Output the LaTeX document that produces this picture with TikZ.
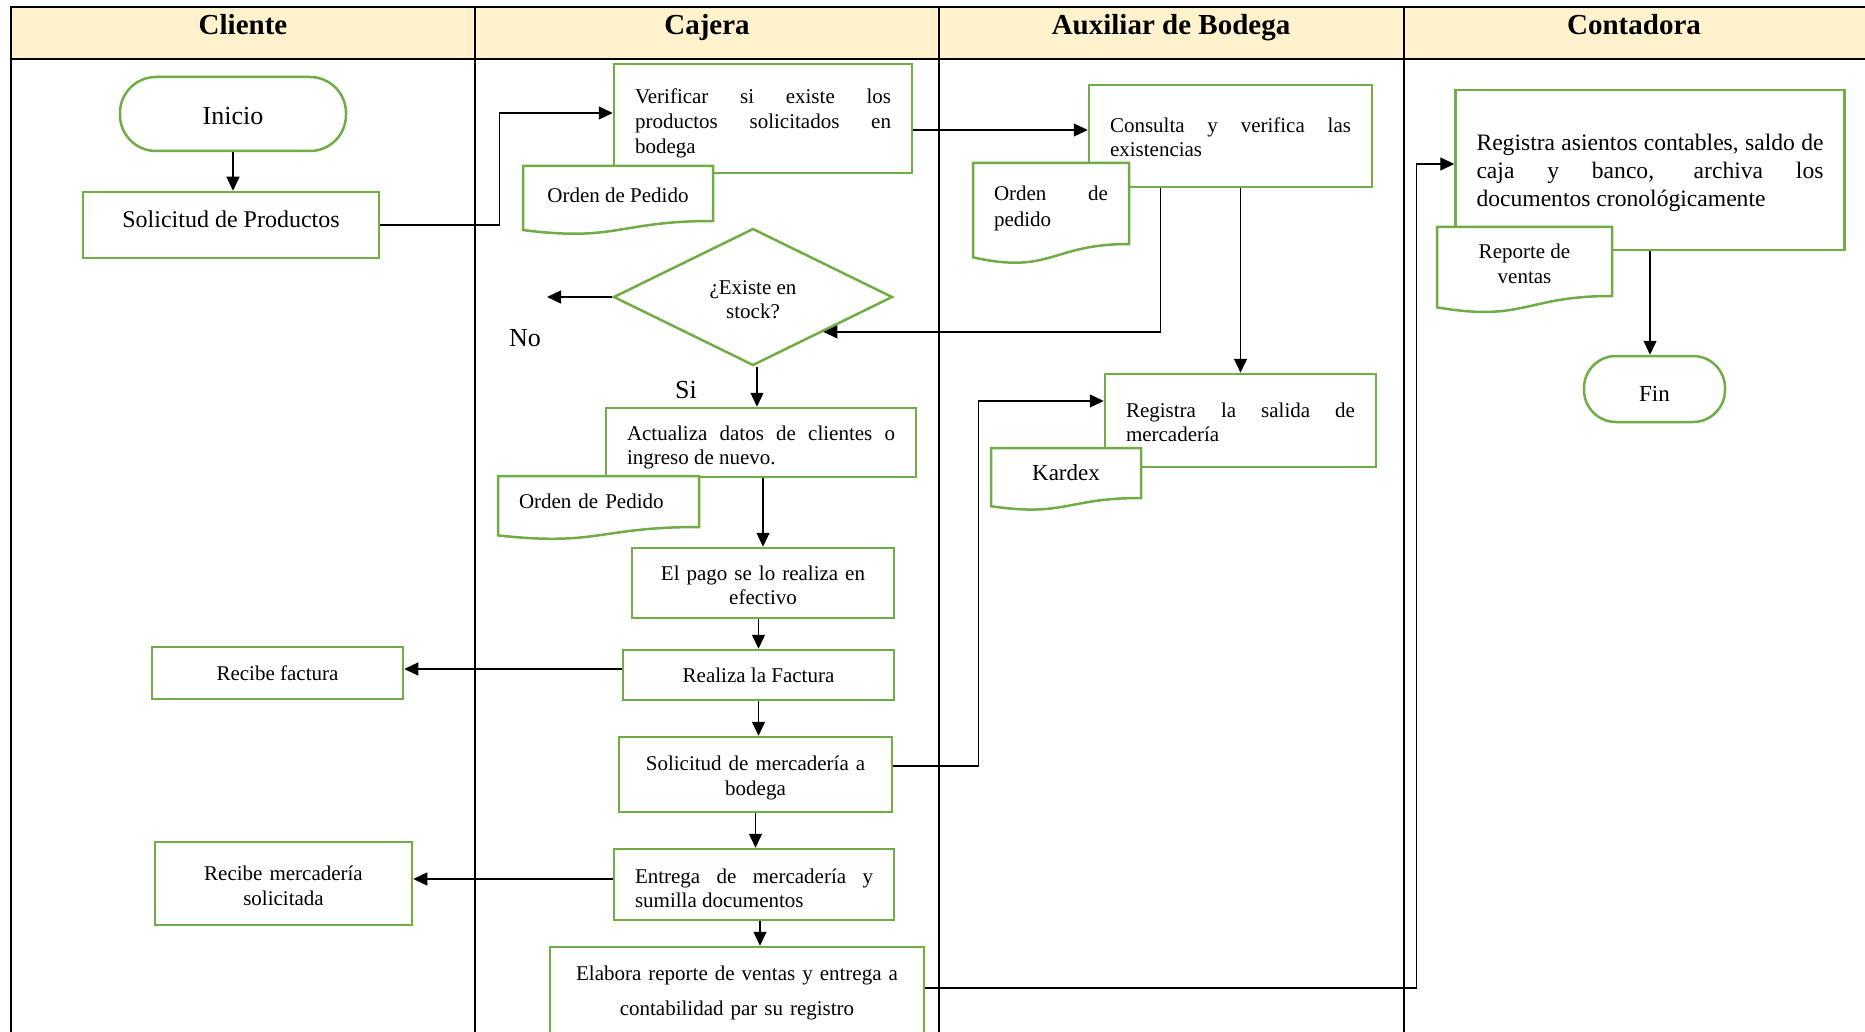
\documentclass[tikz,border=0pt]{standalone}
\usepackage{fontspec}
\setmainfont{Liberation Serif}
\usetikzlibrary{calc,arrows.meta,shapes.geometric}
\definecolor{gr}{HTML}{70AD47}
\definecolor{hdr}{HTML}{FFF2CC}
\newcommand\fs[2]{\fontsize{#1pt}{#2pt}\selectfont}
\newcommand\sd[1]{\rule{0pt}{#1pt}}
\newcommand\su[1]{\rule[-#1pt]{0pt}{#1pt}}
\hyphenpenalty=10000
\newcommand\docwave[2]{%
  \fill[white] (#1.south east) .. controls (#1.south) and ([yshift=-0.381*#2pt]#1.south) .. ([yshift=-0.1646*#2pt]#1.south west) -- (#1.south west) -- cycle;
  \draw[gline] (#1.north west) -- (#1.north east) -- (#1.south east) .. controls (#1.south) and ([yshift=-0.381*#2pt]#1.south) .. ([yshift=-0.1646*#2pt]#1.south west) -- cycle;}
\begin{document}
\begin{tikzpicture}[x=1pt,y=-1pt,
  box/.style={draw=gr,line width=2.5pt,fill=white,rectangle,inner xsep=21pt,inner ysep=3pt,font=\fs{21}{24}},
  term/.style={draw=gr,line width=2.5pt,fill=white,rectangle},
  docn/.style={rectangle,fill=white,draw=none,outer sep=0pt,inner xsep=21pt,inner ysep=2pt,font=\fs{21}{25}},
  gline/.style={draw=gr,line width=2.5pt},
  conn/.style={draw=black,line width=1.3pt,-{Triangle[length=14pt,width=13pt]}},
  lane/.style={line width=1.8pt},
  hd/.style={font=\fs{29}{33}\bfseries,anchor=base},
  lbl/.style={font=\fs{26}{30}}
]
\fill[white] (0,0) rectangle (1865,1032);
\useasboundingbox (0,0) rectangle (1865,1032);
\clip (0,0) rectangle (1865,1032);
% header and lanes
\fill[hdr] (11,7) rectangle (1865,59);
\draw[lane] (475,7) -- (475,1040);
\draw[lane] (939,7) -- (939,1040);
\draw[lane] (1404,7) -- (1404,1040);
\draw[line width=2.5pt] (1865,7) -- (11,7) -- (11,1040);
\draw[line width=2.5pt] (11,59) -- (1865,59);
\node[hd] (hcli) at (243,35) {Cliente};
\node[hd] (hcaj) at (707,35) {Cajera};
\node[hd] (haux) at (1171,35) {Auxiliar de Bodega};
\node[hd] (hcon) at (1634,35) {Contadora};
% process nodes
\node[term,rounded corners=36pt,minimum width=226pt,minimum height=74pt,font=\fs{26}{30}] (ini) at (233,114) {\sd{22}Inicio};
\node[box,minimum width=296pt,minimum height=66pt,font=\fs{24}{28}] (sol) at (231,225) {Solicitud de Productos\su{11}};
\node[box,text width=256pt,minimum height=109pt,align=justify,font=\fs{21}{25}] (ver) at (763,118.5) {\sd{24}Verificar si existe los\linebreak productos solicitados en\linebreak bodega};
\node[diamond,draw=gr,line width=2.5pt,fill=white,minimum width=279pt,minimum height=137pt,inner sep=0pt,align=center,font=\fs{21}{24}] (dia) at (753,297) {\sd{19}¿Existe en\\stock?};
\node[box,text width=268pt,minimum height=69pt,align=justify] (act) at (761,442.5) {\sd{24}Actualiza datos de clientes o\linebreak ingreso de nuevo.};
\node[box,text width=220pt,minimum height=70pt,align=center] (pago) at (763,583) {\sd{19}El pago se lo realiza en\\efectivo};
\node[box,minimum width=271pt,minimum height=50pt] (fact) at (758.5,675) {Realiza la Factura};
\node[box,minimum width=251pt,minimum height=52pt] (rfact) at (277.5,673) {Recibe factura};
\node[box,text width=231pt,minimum height=75pt,align=center,font=\fs{21}{25}] (smerc) at (755.5,774.5) {\sd{21.5}Solicitud de mercadería a\\bodega};
\node[box,text width=238pt,minimum height=71pt,align=justify] (ent) at (754,884.5) {\sd{21.5}Entrega de mercadería y\linebreak sumilla documentos};
\node[box,text width=215pt,minimum height=83pt,align=center,font=\fs{21}{25}] (rmerc) at (283.5,883.5) {\sd{19}Recibe mercadería\\solicitada};
\node[box,text width=332pt,minimum height=89pt,align=center,font=\fs{21}{35}] (elab) at (737,991.5) {\sd{17}Elabora reporte de ventas y entrega a\\contabilidad par su registro};
\node[box,text width=241pt,minimum height=102pt,align=justify] (cons) at (1230.5,136) {\sd{16.5}Consulta y verifica las\linebreak existencias};
\node[box,text width=229pt,minimum height=93pt,align=justify] (sal) at (1240.5,420.5) {\sd{19}Registra la salida de\linebreak mercadería};
\node[box,text width=347pt,minimum height=160pt,align=justify,font=\fs{23.6}{28}] (reg) at (1650,170) {\sd{23}Registra asientos contables, saldo de\linebreak caja y banco, archiva los\linebreak documentos cronológicamente};
\node[term,rounded corners=32pt,minimum width=141pt,minimum height=66pt,font=\fs{23}{27}] (fin) at (1654.5,389) {\sd{25}Fin};
% documents
\node[docn,minimum width=190pt,minimum height=55pt,align=center] (d1) at (618,193.5) {\sd{19}Orden de Pedido};
\docwave{d1}{55}
\node[docn,text width=159pt,minimum height=51pt,align=left] (d2) at (598.5,501.5) {Orden de Pedido};
\docwave{d2}{51}
\node[docn,text width=114pt,minimum height=81pt,align=justify,font=\fs{21}{26}] (d3) at (1051,203.5) {\sd{24}Orden de\linebreak pedido};
\docwave{d3}{81}
\node[docn,minimum width=150pt,minimum height=50pt,font=\fs{23}{27}] (kar) at (1066,473) {Kardex};
\docwave{kar}{50}
\node[docn,minimum width=175pt,minimum height=69pt,align=center] (rep) at (1524.5,261.5) {\sd{19}Reporte de\\ventas};
\docwave{rep}{69}
% labels
\node[lbl] (nolab) at (525,338) {No};
\node[lbl] (silab) at (686,390) {Si};
\coordinate (noend) at (547,297);
% connectors
\draw[conn] (ini.south) -- (ini.south |- sol.north);
\draw[conn] (sol.east) -- ++(119,0) |- ([yshift=5.5pt]ver.west);
\draw[conn] ([yshift=-11.5pt]ver.east) -- ([yshift=-11.5pt]ver.east -| cons.west);
\draw[conn] ([xshift=73pt]cons.south west) |- ($(dia.east)!0.5!(dia.south)$);
\draw[conn] (sal.north |- cons.south) -- (sal.north);
\draw[conn] (dia.west) -- (noend);
\draw[conn] ([xshift=4pt]dia.south) -- ([xshift=4pt]dia.south |- act.north);
\draw[conn] (pago.north |- act.south) -- (pago.north);
\draw[conn] (fact.north |- pago.south) -- (fact.north);
\draw[conn] ([yshift=6pt]fact.west) -- ([yshift=6pt]fact.west -| rfact.east);
\draw[conn] (fact.south) -- (fact.south |- smerc.north);
\draw[conn] ([yshift=8.5pt]smerc.east) -- ++(85,0) |- ([yshift=19.5pt]sal.west);
\draw[conn] (smerc.south) -- (smerc.south |- ent.north);
\draw[conn] ([yshift=5.5pt]ent.west) -- ([yshift=5.5pt]ent.west -| rmerc.east);
\draw[conn] ([xshift=6pt]ent.south) -- ([xshift=6pt]ent.south |- elab.north);
\draw[conn] ([yshift=3.5pt]elab.east) -- ++(491,0) |- ([yshift=6pt]reg.west);
\draw[conn] (reg.south) -- (reg.south |- fin.north);
\end{tikzpicture}
\end{document}
